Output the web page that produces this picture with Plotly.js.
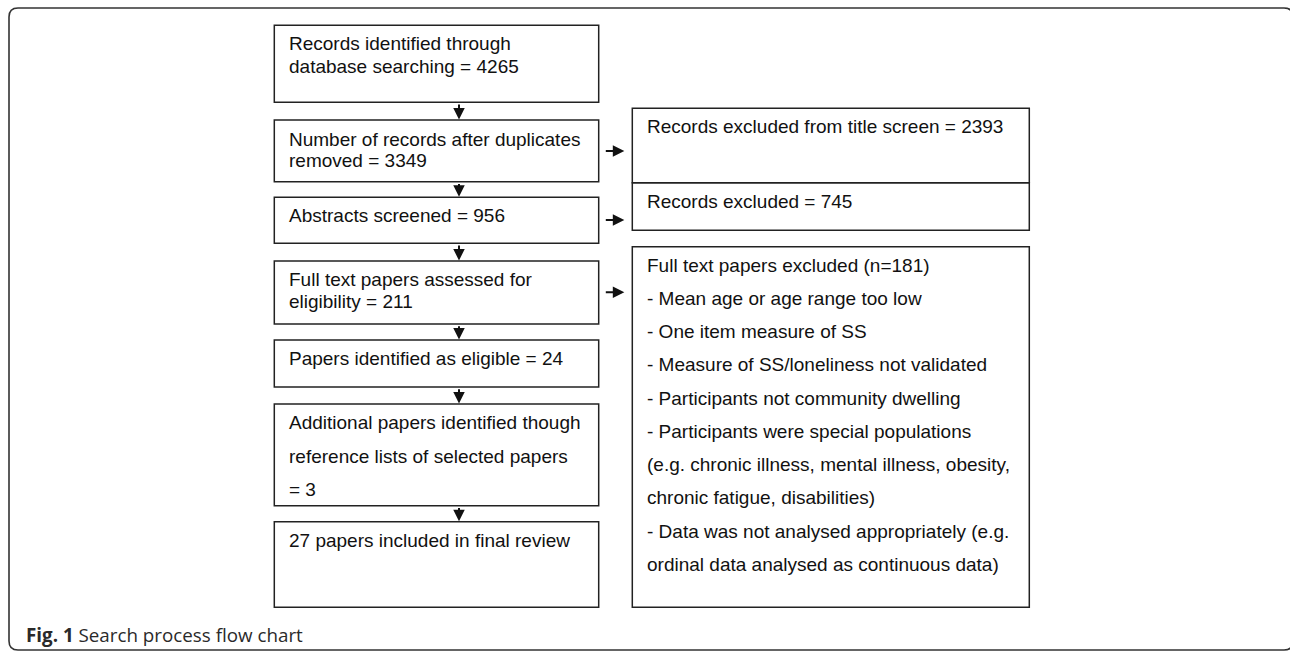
<!DOCTYPE html>
<html>
<head>
<meta charset="utf-8">
<script src="https://cdn.plot.ly/plotly-3.0.1.min.js"></script>
<style>html,body{margin:0;padding:0;background:#fff;}#chart{width:1290px;height:651px;}</style>
</head>
<body>
<div id="chart"></div>
<script>
// ---- Data ----
const stepCounts = [4265, 3349, 956, 211, 24, 3, 27];
const stepLines = [
  ["Records identified through", "database searching = {n}"],
  ["Number of records after duplicates", "removed = {n}"],
  ["Abstracts screened = {n}"],
  ["Full text papers assessed for", "eligibility = {n}"],
  ["Papers identified as eligible = {n}"],
  ["Additional papers identified though", "reference lists of selected papers", "= {n}"],
  ["{n} papers included in final review"]
];
const excludedCounts = [2393, 745, 181];
const excludedTitles = [
  "Records excluded from title screen = {n}",
  "Records excluded = {n}",
  "Full text papers excluded (n={n})"
];
const exclusionReasons = [
  "- Mean age or age range too low",
  "- One item measure of SS",
  "- Measure of SS/loneliness not validated",
  "- Participants not community dwelling",
  "- Participants were special populations",
  "(e.g. chronic illness, mental illness, obesity,",
  "chronic fatigue, disabilities)",
  "- Data was not analysed appropriately (e.g.",
  "ordinal data analysed as continuous data)"
];
const captionBold = "Fig. 1";
const captionText = "Search process flow chart";

// ---- Layout geometry (pixel units on hidden axes) ----
const leftX = [274.3, 598.7];
const leftBoxY = [[25.3,102.3],[120,181.7],[197.3,243.3],[261,324],[340,387],[404,505.7],[521.7,607.3]];
const leftBaselines = [[50,72.7],[145.7,167.5],[222.3],[286,308.3],[365],[429.3,463.3,496],[546.7]];
const rightX = [632.3, 1029.3];
const rightBoxY = [[108.3,182.7],[182.7,230.3],[246.7,607.3]];
const rightBaselines = [133.3, 208.3, 271.7];
const reasonStart = 305, reasonStep = 33.25;
const sideArrowY = [151, 220, 292.3];
const FS = 19;
const FONT = {family: "'Liberation Sans', Arial, Helvetica, sans-serif", size: FS, color: "#111"};
const LINE = {color: "#222", width: 1.5};

const shapes = [];
const annotations = [];
function textAt(x, baseline, txt, font) {
  const f = font || FONT;
  annotations.push({
    x: x, y: baseline - 0.3465 * f.size, xref: "x", yref: "y",
    text: txt, showarrow: false, xanchor: "left", yanchor: "middle",
    align: "left", font: f, borderpad: 0
  });
}
function arrow(x0, y0, x1, y1) {
  annotations.push({
    x: x1, y: y1, ax: x0, ay: y0, xref: "x", yref: "y", axref: "x", ayref: "y",
    text: "", showarrow: true, arrowhead: 2, arrowsize: 1.15, arrowwidth: 2,
    arrowcolor: "#111", standoff: 0, startstandoff: 0
  });
}

// outer frame (rounded)
const fx0 = 9, fy0 = 8, fx1 = 1293, fy1 = 650, r = 9;
shapes.push({
  type: "path", xref: "x", yref: "y",
  path: `M ${fx0+r},${fy0} L ${fx1-r},${fy0} Q ${fx1},${fy0} ${fx1},${fy0+r} L ${fx1},${fy1-r} Q ${fx1},${fy1} ${fx1-r},${fy1} L ${fx0+r},${fy1} Q ${fx0},${fy1} ${fx0},${fy1-r} L ${fx0},${fy0+r} Q ${fx0},${fy0} ${fx0+r},${fy0} Z`,
  line: {color: "#333", width: 1.6}, fillcolor: "rgba(0,0,0,0)"
});

// left boxes
leftBoxY.forEach((yy, i) => {
  shapes.push({type: "rect", xref: "x", yref: "y", x0: leftX[0], x1: leftX[1], y0: yy[0], y1: yy[1], line: LINE});
  stepLines[i].forEach((ln, j) => {
    textAt(leftX[0] + 14, leftBaselines[i][j], ln.replace("{n}", stepCounts[i]));
  });
  if (i < leftBoxY.length - 1) {
    const cx = 459;
    arrow(cx, yy[1] + 0.8, cx, leftBoxY[i+1][0] - 0.5);
  }
});

// right boxes
rightBoxY.forEach((yy, i) => {
  shapes.push({type: "rect", xref: "x", yref: "y", x0: rightX[0], x1: rightX[1], y0: yy[0], y1: yy[1], line: LINE});
  textAt(rightX[0] + 14, rightBaselines[i], excludedTitles[i].replace("{n}", excludedCounts[i]));
  arrow(604.3, sideArrowY[i], 624.3, sideArrowY[i]);
});
exclusionReasons.forEach((t, k) => {
  textAt(rightX[0] + 14, reasonStart + k * reasonStep, t);
});

// caption
textAt(25, 641.7, "<b>" + captionBold + "</b> " + captionText,
  {family: "'Open Sans', 'Noto Sans', sans-serif", size: 18.8, color: "#2a2a2a"});

const layout = {
  width: 1290, height: 651,
  margin: {l: 0, r: 0, t: 0, b: 0, pad: 0},
  paper_bgcolor: "#fff", plot_bgcolor: "#fff",
  showlegend: false,
  xaxis: {range: [0, 1290], visible: false, fixedrange: true},
  yaxis: {range: [651, 0], visible: false, fixedrange: true},
  shapes: shapes, annotations: annotations
};
Plotly.newPlot("chart", [{x: [], y: [], type: "scatter", hoverinfo: "skip"}], layout, {staticPlot: true, displayModeBar: false});
</script>
</body>
</html>
